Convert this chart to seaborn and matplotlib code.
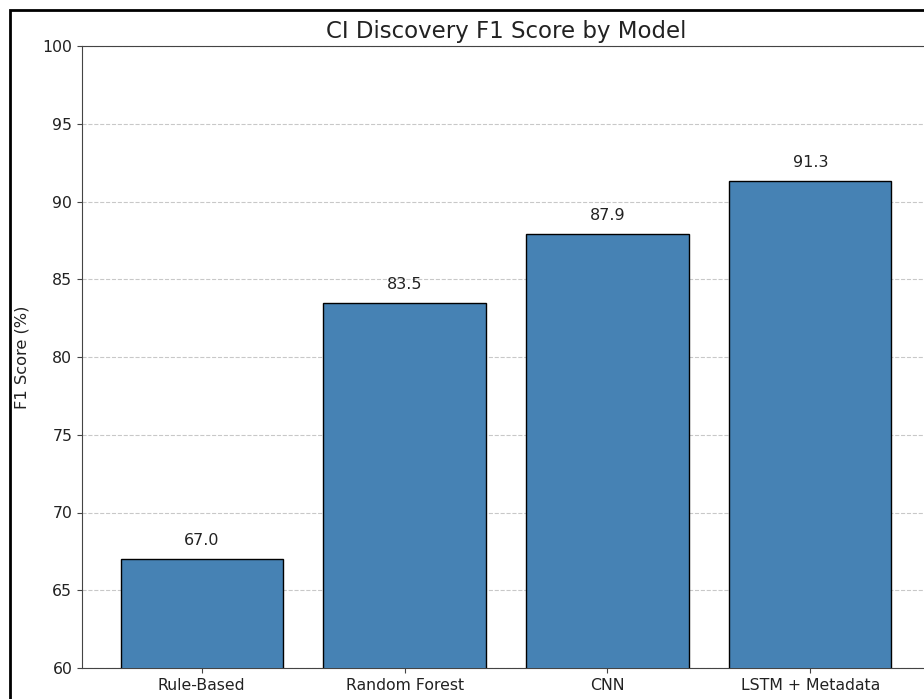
import matplotlib
matplotlib.use("Agg")
import matplotlib.pyplot as plt
from matplotlib.patches import Rectangle
import seaborn as sns
import pandas as pd

models = ["Rule-Based", "Random Forest", "CNN", "LSTM + Metadata"]
f1_scores = [67.0, 83.5, 87.9, 91.3]
yticks = [60, 65, 70, 75, 80, 85, 90, 95, 100]

df = pd.DataFrame({"Model": models, "F1": f1_scores})

W, H = 924, 699
fig = plt.figure(figsize=(W / 100, H / 100), dpi=100)
# axes runs past the right edge of the canvas
ax = fig.add_axes([82 / W, 1 - 668 / H, (930 - 82) / W, (668 - 46) / H])

sns.barplot(data=df, x="Model", y="F1", ax=ax, color="steelblue",
            edgecolor="black", linewidth=1, saturation=1, width=0.8, zorder=3)

text_color = "#222222"
for i, v in enumerate(f1_scores):
    ax.text(i, v + 0.7, f"{v:.1f}", ha="center", va="bottom",
            fontsize=11.5, color=text_color)

ax.set_xlim(-0.59, 3.59)
ax.set_ylim(60, 100)
ax.set_yticks(yticks)
ax.yaxis.grid(True, linestyle="--", color="#bbbbbb", alpha=0.8, zorder=0)
ax.set_axisbelow(True)
ax.set_xlabel("")
ax.set_ylabel("F1 Score (%)", fontsize=11.7, color=text_color, labelpad=9)
ax.set_title("CI Discovery F1 Score by Model", fontsize=16.5,
             color=text_color, pad=6)
ax.tick_params(labelsize=11.3, labelcolor=text_color, color="#444444")
for sp in ax.spines.values():
    sp.set_color("#444444")

# dark outer frame around the figure
fig.patches.append(Rectangle((10 / W, -0.1), 1.2, 1 - 10 / H + 0.1,
                             transform=fig.transFigure, fill=False,
                             edgecolor="black", linewidth=2, zorder=10))

fig.savefig("out.png", dpi=100)
